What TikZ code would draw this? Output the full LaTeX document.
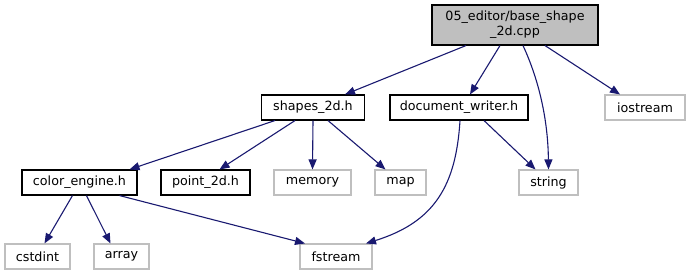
\documentclass[tikz,border=0pt]{standalone}
\usepackage{fontspec}
\setmainfont{DejaVu Sans}
\usetikzlibrary{arrows.meta}
\definecolor{edgeblue}{HTML}{191970}
\definecolor{boxgrey}{HTML}{BFBFBF}
\begin{document}
\begin{tikzpicture}[x=1pt,y=-1pt,
  every node/.style={font=\fontsize{12.7}{15}\selectfont, inner sep=0pt, align=center},
  filebox/.style={draw=black, line width=1.1pt, fill=white, minimum height=25pt},
  sysbox/.style={draw=boxgrey, line width=1.1pt, fill=white, minimum height=25pt},
  rootbox/.style={draw=black, line width=1.1pt, fill=boxgrey, minimum height=40pt},
  edge/.style={draw=edgeblue, line width=1.1pt, -{Triangle[length=10pt,width=8pt]}}]
\useasboundingbox (0,0) rectangle (691,276);
% header being documented
\node[rootbox, minimum width=166pt] (root) at (515,25) {05\_editor/base\_shape\\\_2d.cpp};
% first level includes
\node[filebox, minimum width=103pt] (shapes) at (313,107.5) {shapes\_2d.h};
\node[filebox, minimum width=138pt] (doc) at (459,107.5) {document\_writer.h};
\node[sysbox, minimum width=80pt] (iostream) at (645,107.5) {iostream};
% second level includes
\node[filebox, minimum width=115pt] (color) at (79.5,182.5) {color\_engine.h};
\node[filebox, minimum width=89pt] (point) at (205.5,182.5) {point\_2d.h};
\node[sysbox, minimum width=77pt] (memory) at (312.5,182.5) {memory};
\node[sysbox, minimum width=51pt] (map) at (400.5,182.5) {map};
\node[sysbox, minimum width=59pt] (string) at (548.5,182.5) {string};
% third level includes
\node[sysbox, minimum width=65pt] (cstdint) at (37.5,256.5) {cstdint};
\node[sysbox, minimum width=55pt] (array) at (121.5,256.5) {array};
\node[sysbox, minimum width=72pt] (fstream) at (336,256.5) {fstream};
% include edges
\draw[edge] ([xshift=-49pt]root.south) -- ([xshift=32pt]shapes.north);
\draw[edge] ([xshift=-15pt]root.south) -- ([xshift=11pt]doc.north);
\draw[edge] ([xshift=8pt]root.south) .. controls (539,80) and (548,120) .. (string.north);
\draw[edge] ([xshift=30pt]root.south) -- ([xshift=-25pt]iostream.north);
\draw[edge] ([xshift=-38pt]shapes.south) -- ([xshift=50pt]color.north);
\draw[edge] ([xshift=-18pt]shapes.south) -- ([xshift=14pt]point.north);
\draw[edge] (shapes.south) -- (memory.north);
\draw[edge] ([xshift=15pt]shapes.south) -- ([xshift=-15pt]map.north);
\draw[edge] ([xshift=25pt]doc.south) -- ([xshift=-13pt]string.north);
\draw[edge] ([xshift=1pt]doc.south) .. controls (456,185) and (435,222) .. ([xshift=30pt]fstream.north);
\draw[edge] ([xshift=-7pt]color.south) -- ([xshift=7pt]cstdint.north);
\draw[edge] ([xshift=7pt]color.south) -- ([xshift=-11pt]array.north);
\draw[edge] ([xshift=40pt]color.south) -- ([xshift=-31pt]fstream.north);
\end{tikzpicture}
\end{document}
